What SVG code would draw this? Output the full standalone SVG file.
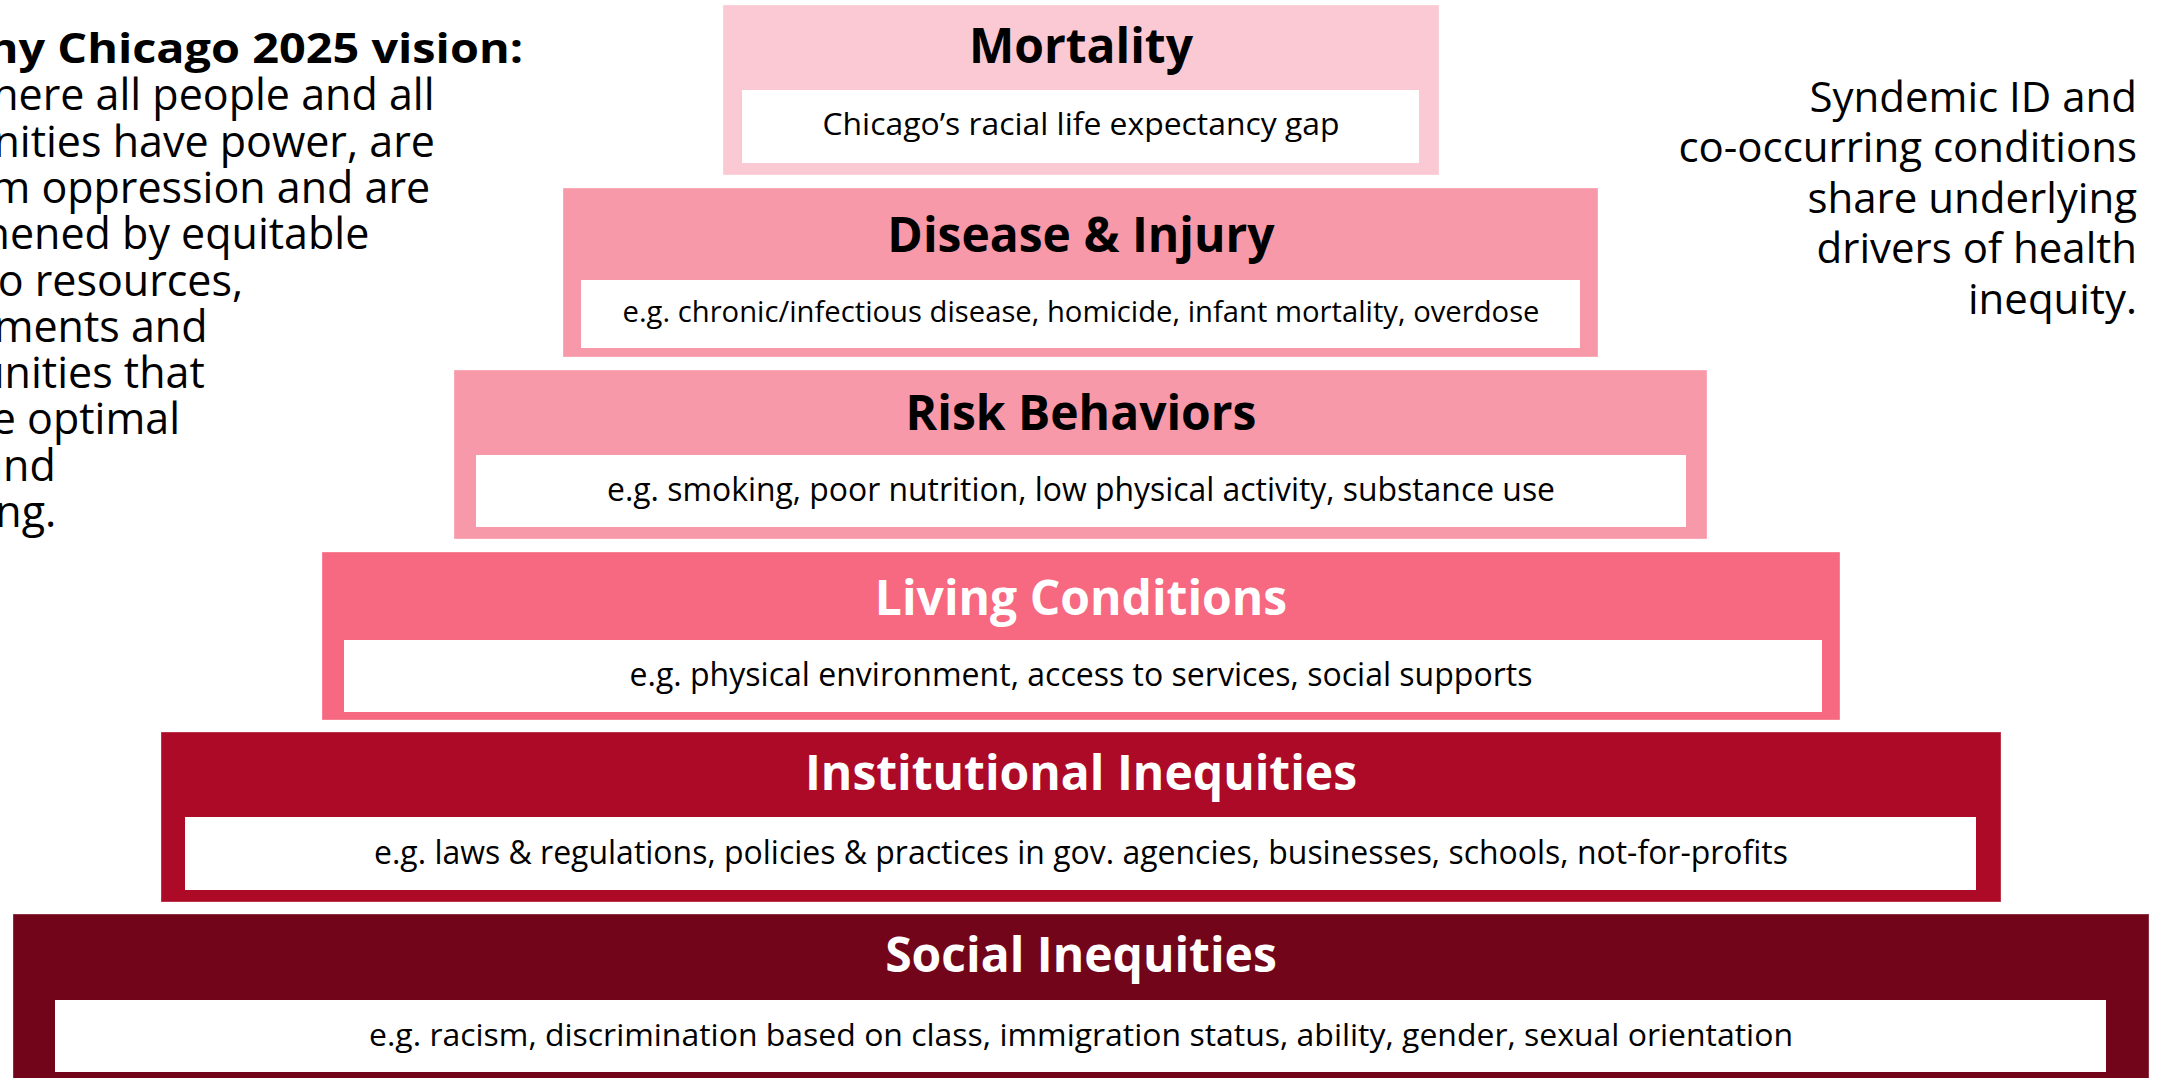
<svg xmlns="http://www.w3.org/2000/svg" width="2161" height="1078" viewBox="0 0 2161 1078">
  <style>
    .tier { stroke: #ffffff; stroke-opacity: 0.35; stroke-width: 1; }
    .card { fill: #ffffff; }
    .title { font-family: "Open Sans", "Noto Sans", "Liberation Sans", sans-serif; font-weight: 700; font-size: 48px; text-anchor: middle; }
    .sub { font-family: "Open Sans", "Noto Sans", "Liberation Sans", sans-serif; font-weight: 400; text-anchor: middle; fill: #000000; }
    .dark { fill: #000000; }
    .light { fill: #ffffff; }
    .note { font-family: "Open Sans", "Noto Sans", "Liberation Sans", sans-serif; font-size: 42px; fill: #000000; }
    .vision { font-size: 43px; }
  </style>
  <rect width="2161" height="1078" fill="#ffffff"/>

  <!-- vision statement, left side (runs off the left edge) -->
  <g id="vision">
    <text class="note" transform="translate(523,63) scale(1.115,1)" x="0" y="0" font-weight="700" font-size="45" text-anchor="end">Healthy Chicago 2025 vision:</text>
    <text class="note vision" x="-159" y="110">A city where all people and all</text>
    <text class="note vision" x="-159" y="157">communities have power, are</text>
    <text class="note vision" x="-159" y="203">free from oppression and are</text>
    <text class="note vision" x="-159" y="249">strengthened by equitable</text>
    <text class="note vision" x="-159" y="296">access to resources,</text>
    <text class="note vision" x="-159" y="342">environments and</text>
    <text class="note vision" x="-159" y="388">opportunities that</text>
    <text class="note vision" x="-159" y="434">promote optimal</text>
    <text class="note vision" x="-159" y="481">health and</text>
    <text class="note vision" x="-159" y="527">well-being.</text>
  </g>

  <!-- syndemic note, right side -->
  <g id="syndemic-note">
    <text class="note" x="2137" y="112" text-anchor="end">Syndemic ID and</text>
    <text class="note" x="2137" y="162" text-anchor="end">co-occurring conditions</text>
    <text class="note" x="2137" y="213" text-anchor="end">share underlying</text>
    <text class="note" x="2137" y="263" text-anchor="end">drivers of health</text>
    <text class="note" x="2137" y="314" text-anchor="end">inequity.</text>
  </g>

  <!-- pyramid tiers, top to bottom -->
  <g id="tier-mortality">
    <rect class="tier" x="723" y="5" width="716" height="170" fill="#FAC9D3"/>
    <rect class="card" x="742" y="90" width="677" height="73"/>
    <text class="title dark" x="1081" y="63">Mortality</text>
    <text class="sub" x="1081" y="135" font-size="31.6" textLength="517" lengthAdjust="spacingAndGlyphs">Chicago’s racial life expectancy gap</text>
  </g>

  <g id="tier-disease">
    <rect class="tier" x="563" y="188" width="1035" height="169" fill="#F899AA"/>
    <rect class="card" x="581" y="280" width="999" height="68"/>
    <text class="title dark" x="1081" y="252">Disease &amp; Injury</text>
    <text class="sub" x="1081" y="322" font-size="28.7" textLength="917" lengthAdjust="spacingAndGlyphs">e.g. chronic/infectious disease, homicide, infant mortality, overdose</text>
  </g>

  <g id="tier-risk">
    <rect class="tier" x="454" y="370" width="1253" height="169" fill="#F899AA"/>
    <rect class="card" x="476" y="455" width="1210" height="72"/>
    <text class="title dark" x="1081" y="430">Risk Behaviors</text>
    <text class="sub" x="1081" y="501" font-size="31.9" textLength="948" lengthAdjust="spacingAndGlyphs">e.g. smoking, poor nutrition, low physical activity, substance use</text>
  </g>

  <g id="tier-living">
    <rect class="tier" x="322" y="552" width="1518" height="168" fill="#F76881"/>
    <rect class="card" x="344" y="640" width="1478" height="72"/>
    <text class="title light" x="1081" y="615">Living Conditions</text>
    <text class="sub" x="1081" y="686" font-size="32" textLength="903" lengthAdjust="spacingAndGlyphs">e.g. physical environment, access to services, social supports</text>
  </g>

  <g id="tier-institutional">
    <rect class="tier" x="161" y="732" width="1840" height="170" fill="#AC0A27"/>
    <rect class="card" x="185" y="817" width="1791" height="73"/>
    <text class="title light" x="1081" y="790">Institutional Inequities</text>
    <text class="sub" x="1081" y="864" font-size="31.9" textLength="1414" lengthAdjust="spacingAndGlyphs">e.g. laws &amp; regulations, policies &amp; practices in gov. agencies, businesses, schools, not-for-profits</text>
  </g>

  <g id="tier-social">
    <rect class="tier" x="13" y="914" width="2136" height="170" fill="#73051A"/>
    <rect class="card" x="55" y="1000" width="2051" height="72"/>
    <text class="title light" x="1081" y="972">Social Inequities</text>
    <text class="sub" x="1081" y="1046" font-size="31.7" textLength="1424" lengthAdjust="spacingAndGlyphs">e.g. racism, discrimination based on class, immigration status, ability, gender, sexual orientation</text>
  </g>
</svg>
